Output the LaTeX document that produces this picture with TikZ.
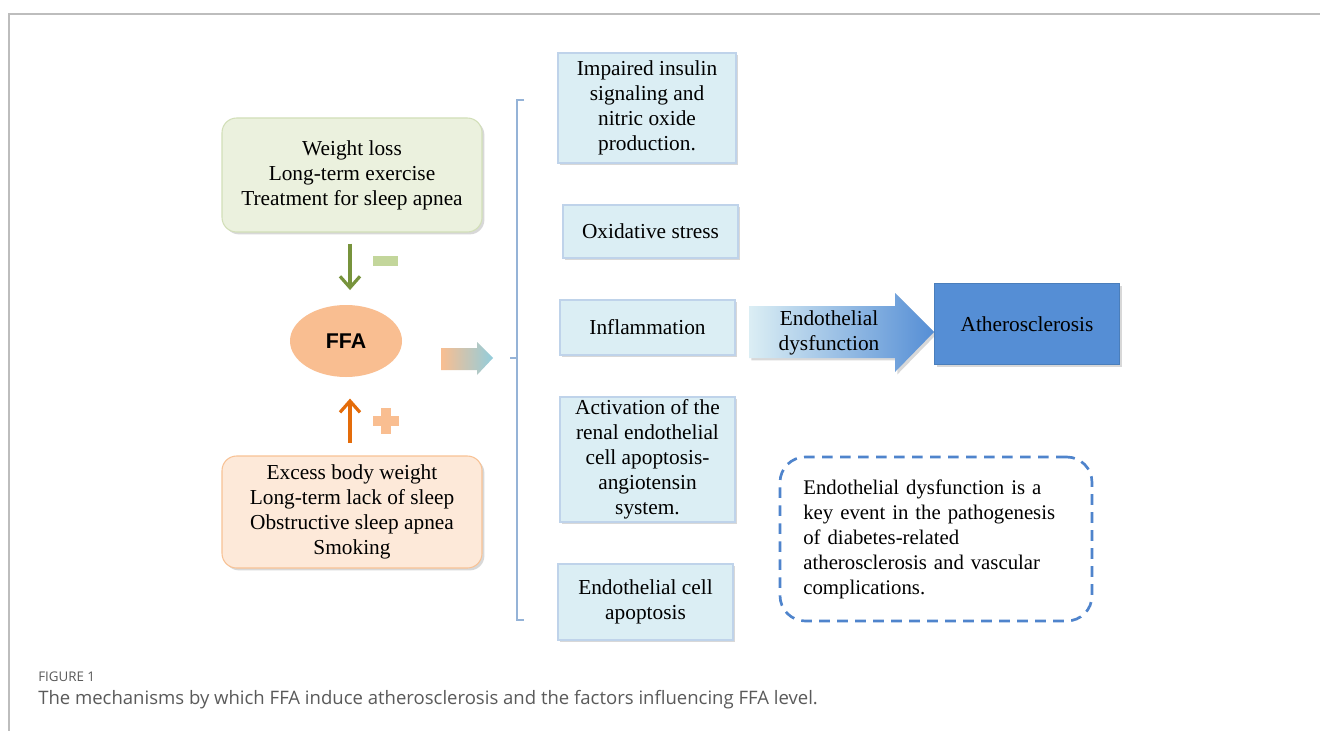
\documentclass[tikz,border=0pt]{standalone}
\usepackage{fontspec}
\setmainfont{Liberation Serif}
\newfontfamily\capfont{Open Sans}
\newfontfamily\ffafont{Liberation Sans}
\usetikzlibrary{arrows.meta,shadows,shapes.geometric}
\definecolor{gfill}{HTML}{EBF1DE}
\definecolor{gline}{HTML}{D2DFB8}
\definecolor{ofill}{HTML}{FDE9D9}
\definecolor{oline}{HTML}{F8C295}
\definecolor{bfill}{HTML}{DBEEF4}
\definecolor{bline}{HTML}{BFD3EA}
\definecolor{peach}{HTML}{F9BE91}
\definecolor{garr}{HTML}{77933C}
\definecolor{gminus}{HTML}{C3D69B}
\definecolor{oarr}{HTML}{E46C0A}
\definecolor{ltblue}{HTML}{92CDDC}
\definecolor{athero}{HTML}{558ED5}
\definecolor{atheroline}{HTML}{4A7EBB}
\definecolor{dashblue}{HTML}{4F84CC}
\definecolor{brk}{HTML}{95B3D7}
\definecolor{framec}{HTML}{BDBDBD}
\definecolor{capgray}{HTML}{5A5A5A}
\tikzset{
  txt/.style={font=\fontsize{16}{18.75}\selectfont, align=center, inner sep=0pt},
  shad/.style={drop shadow={opacity=0.3, shadow xshift=1.8pt, shadow yshift=-1.8pt}},
  gbox/.style={txt, shad, rounded corners=11pt, fill=gfill, draw=gline, line width=0.8pt},
  obox/.style={txt, shad, rounded corners=11pt, fill=ofill, draw=oline, line width=0.8pt},
  bbox/.style={txt, shad, fill=bfill, draw=bline, line width=0.8pt},
  vbarrow/.style={line width=2.4pt, -{Straight Barb[length=8.5pt, width=15pt, line width=2.4pt]}},
  brkline/.style={draw=brk, line width=0.8pt},
}
\begin{document}
\begin{tikzpicture}[x=0.75pt, y=-0.75pt]
\useasboundingbox (0,0) rectangle (1320,731);
\fill[white] (0,0) rectangle (1320,731);
\draw[framec, line width=1.2pt] (9,731) -- (9,14) -- (1320,14);

% left column
\node[gbox, minimum width=195pt, minimum height=85.5pt] (wbox) at (352,175)
  {Weight loss\\Long-term exercise\\Treatment for sleep apnea};
\node[obox, minimum width=195pt, minimum height=84pt] (obox) at (352,512)
  {Excess body weight\\Long-term lack of sleep\\Obstructive sleep apnea\\Smoking};
\node[ellipse, fill=peach, minimum width=84pt, minimum height=54pt, inner sep=0pt,
  font=\ffafont\bfseries\fontsize{16}{18}\selectfont] (ffa) at (346,341) {FFA};

\draw[vbarrow, garr] ([xshift=-1.5pt, yshift=-8.25pt]wbox.south) -- ([xshift=3pt, yshift=11pt]ffa.north);
\draw[vbarrow, oarr] ([xshift=-1.5pt, yshift=9.5pt]obox.north) -- ([xshift=3pt, yshift=-16pt]ffa.south);

% minus and plus
\fill[gminus] (373,256) rectangle (398,266);
\fill[peach] (381,408) rectangle (391,434);
\fill[peach] (373,416) rectangle (399,426);

% gradient arrow
\shade[left color=peach, right color=ltblue, middle color=peach!50!ltblue]
  (441,348) -- (477,348) -- (477,342) -- (493,358) -- (477,375) -- (477,370) -- (441,370) -- cycle;

% bracket
\draw[brkline] (524,100) -- (517,100) -- (517,620) -- (524,620);
\draw[brkline] (510,358) -- (517,358);

% mechanism boxes
\node[bbox, minimum width=133.5pt, minimum height=82.5pt] (m1) at (647,108)
  {Impaired insulin\\signaling and\\nitric oxide\\production.};
\node[bbox, minimum width=131.25pt, minimum height=39.75pt] (m2) at (650.5,231.5)
  {Oxidative stress};
\node[bbox, minimum width=131.25pt, minimum height=41.25pt] (m3) at (647.5,327.5)
  {Inflammation};
\node[bbox, minimum width=131.25pt, minimum height=93.75pt] (m4) at (647.5,459.5)
  {Activation of the\\renal endothelial\\cell apoptosis-\\angiotensin\\system.};
\node[bbox, minimum width=131.25pt, minimum height=57pt] (m5) at (645.5,602)
  {Endothelial cell\\apoptosis};

% endothelial dysfunction arrow
\shade[left color=bfill, right color=athero, shad]
  (749,306) -- (895,306) -- (895,293) -- (934,332) -- (895,372) -- (895,358) -- (749,358) -- cycle;
\node[txt] (edys) at (829,333) {Endothelial\\dysfunction};

\node[txt, shad, fill=athero, draw=atheroline, line width=0.8pt,
  minimum width=138.75pt, minimum height=60.75pt] (ath) at (1027,324) {Atherosclerosis};

% dashed note
\node[font=\fontsize{15.6}{18.75}\selectfont, align=left, text width=199pt,
  draw=dashblue, line width=2pt, dash pattern=on 8pt off 5.5pt, rounded corners=19pt,
  minimum width=234pt, minimum height=123pt, inner xsep=16.5pt, inner ysep=0pt] (note) at (936,539)
  {Endothelial dysfunction is a\\key event in the pathogenesis\\of diabetes-related\\atherosclerosis and vascular\\complications.};

% caption
\node[anchor=west, inner sep=0pt, text=capgray, font=\capfont\fontsize{10}{12}\selectfont] (figlab) at (38,677) {FIGURE 1};
\node[anchor=west, inner sep=0pt, text=capgray, font=\capfont\fontsize{13.9}{16}\selectfont] (cap) at (38,700)
  {The mechanisms by which FFA induce atherosclerosis and the factors influencing FFA level.};
\end{tikzpicture}
\end{document}
